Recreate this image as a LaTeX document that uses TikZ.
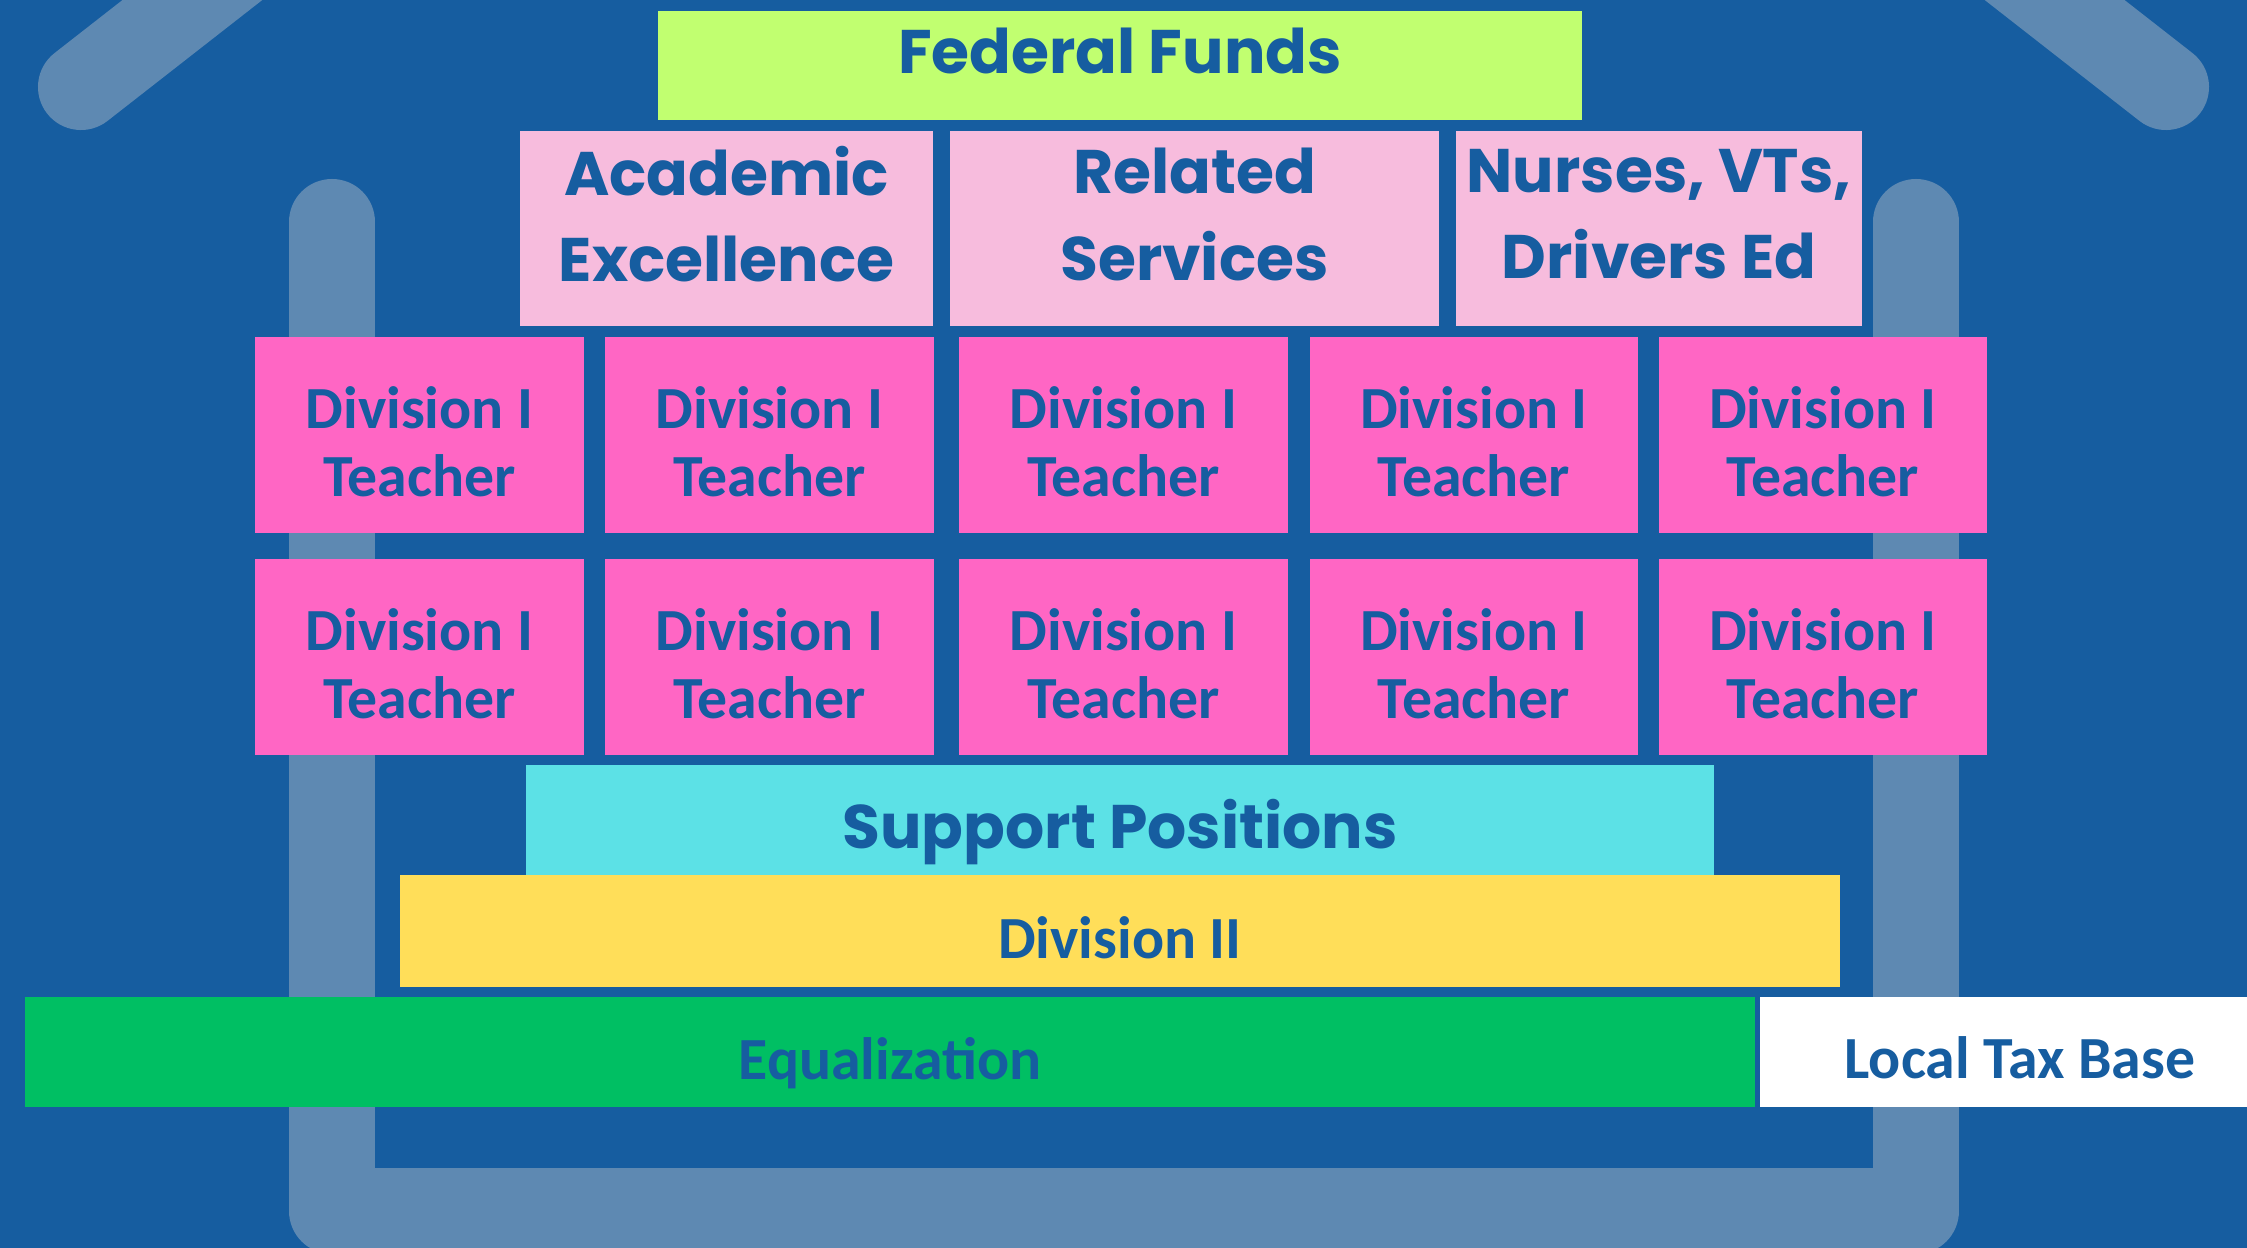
\documentclass[tikz,border=0pt]{standalone}
\usepackage{fontspec}
\usetikzlibrary{positioning}
\newfontfamily\headfont{Poppins}
\newfontfamily\bodyfont{Carlito}
\definecolor{bgblue}{RGB}{22,93,160}
\definecolor{wallgrey}{RGB}{94,137,178}
\definecolor{fedgreen}{RGB}{193,255,112}
\definecolor{palepink}{RGB}{247,188,221}
\definecolor{hotpink}{RGB}{255,102,196}
\definecolor{supcyan}{RGB}{92,225,230}
\definecolor{divyellow}{RGB}{255,222,89}
\definecolor{eqgreen}{RGB}{0,191,99}
\tikzset{
  block/.style={rectangle, inner sep=0pt, draw=none},
  headtext/.style={text=bgblue, inner sep=0pt, align=center,
    font=\headfont\bfseries\fontsize{17.5}{24.5}\selectfont},
  bodytext/.style={text=bgblue, inner sep=0pt, align=center,
    font=\bodyfont\bfseries\fontsize{17}{19.3}\selectfont},
  wall/.style={wallgrey, line width=0.86cm, line cap=round, line join=round},
}

\begin{document}
\begin{tikzpicture}[x=0.01cm,y=-0.01cm]
  \useasboundingbox (0,0) rectangle (2247,1248);
  \clip (0,0) rectangle (2247,1248);
  \fill[bgblue] (0,0) rectangle (2247,1248);
  % house outline behind the blocks
  \draw[wall] (81,87) -- (396,-159);
  \draw[wall] (2166,87) -- (1851,-159);
  \draw[wall] (332,222) -- (332,1211) -- (1916,1211) -- (1916,222);
  % federal layer
  \node[block, fill=fedgreen, minimum width=9.24cm, minimum height=1.09cm] (fed) at (1120,65.5) {};
  \node[headtext] (fedlbl) at ([yshift=4pt]fed.center) {Federal Funds};
  \node[block, fill=palepink, minimum width=4.13cm, minimum height=1.95cm] (acad) at (726.5,228.5) {};
  \node[headtext] (acadlbl) at ([yshift=4pt]acad.center) {Academic\\Excellence};
  \node[block, fill=palepink, minimum width=4.89cm, minimum height=1.95cm] (relsrv) at (1194.5,228.5) {};
  \node[headtext] (relsrvlbl) at ([yshift=4pt]relsrv.center) {Related\\Services};
  \node[block, fill=palepink, minimum width=4.06cm, minimum height=1.95cm] (nurse) at (1659,228.5) {};
  \node[headtext] (nurselbl) at ([yshift=4pt]nurse.center) {Nurses, VTs,\\Drivers Ed};
  % division I teachers
  \foreach \cx [count=\i] in {419.5,769.5,1123.5,1474,1823} {
    \foreach \cy [count=\j] in {435,657} {
      \node[block, fill=hotpink, minimum width=3.28cm, minimum height=1.95cm] (teach\j\i) at (\cx,\cy) {};
      \node[bodytext] (teachlbl\j\i) at ([yshift=-2pt]teach\j\i.center) {Division I\\Teacher};
    }
  }
  % state layers
  \node[block, fill=supcyan, minimum width=11.88cm, minimum height=1.10cm] (support) at (1120,820) {};
  \node[headtext] (supportlbl) at ([yshift=-3.4pt]support.center) {Support Positions};
  \node[block, fill=divyellow, minimum width=14.40cm, minimum height=1.12cm] (divtwo) at (1120,931) {};
  \node[bodytext] (divtwolbl) at ([yshift=-2pt]divtwo.center) {Division II};
  \node[block, fill=eqgreen, minimum width=17.28cm, minimum height=1.10cm] (equal) at (890,1052) {};
  \node[bodytext] (equallbl) at ([yshift=-3.1pt]equal.center) {Equalization};
  \node[block, fill=white, minimum width=5.20cm, minimum height=1.10cm] (local) at (2020,1052) {};
  \node[bodytext] (locallbl) at ([yshift=-1.7pt]local.center) {Local Tax Base};
\end{tikzpicture}
\end{document}
